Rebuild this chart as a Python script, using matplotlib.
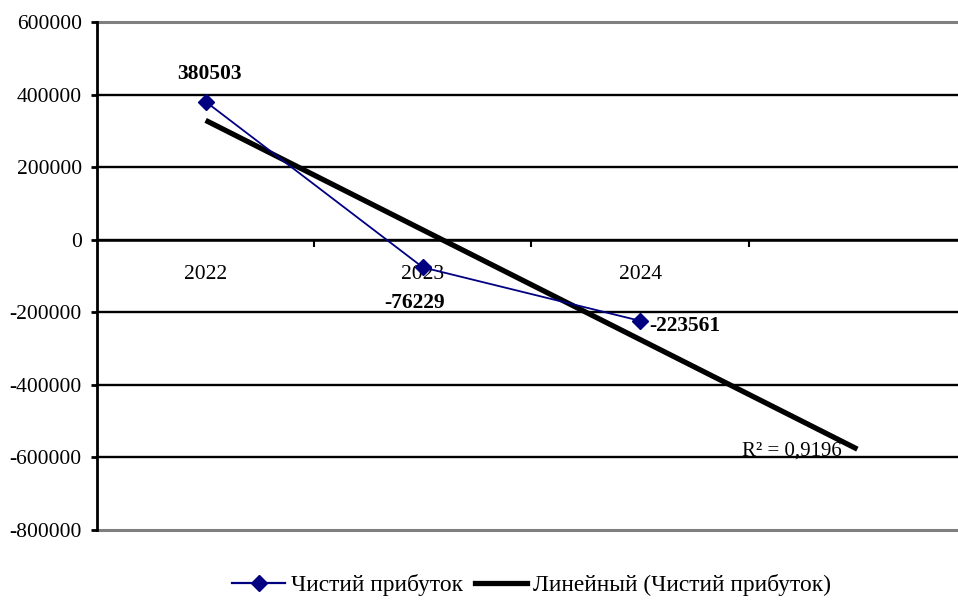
import numpy as np
import matplotlib.pyplot as plt
from matplotlib.lines import Line2D
from matplotlib.ticker import FixedLocator, NullFormatter, FixedFormatter

plt.rcParams['font.family'] = ['Liberation Serif', 'DejaVu Serif']

years = ['2022', '2023', '2024']
profit = [380503, -76229, -223561]
series_name = 'Чистий прибуток'
trend_name = 'Линейный (Чистий прибуток)'
y_ticks = [600000, 400000, 200000, 0, -200000, -400000, -600000, -800000]

x = np.arange(1, len(years) + 1)
# linear trend, extended one period forward
k, b = np.polyfit(x, profit, 1)
x_tr = np.array([1, len(years) + 1])
y_fit = k * x + b
r2 = 1 - np.sum((np.array(profit) - y_fit) ** 2) / np.sum((np.array(profit) - np.mean(profit)) ** 2)

fig = plt.figure(figsize=(9.58, 6.01), dpi=100)
ax = fig.add_axes([97 / 958, 71 / 601, 869 / 958, 508 / 601])
ax.set_xlim(0.5, 4.5)
ax.set_ylim(-800000, 600000)

# horizontal grid with a grey shadow
for v in y_ticks[1:-1]:
    ax.axhline(v, color='#808080', lw=1.3, zorder=1, clip_on=False)
    ax.axhline(v, color='black', lw=1.7, zorder=1.1, clip_on=False)
ax.axhline(600000, color='#7f7f7f', lw=2.2, zorder=1, clip_on=False)
ax.axhline(-800000, color='#7f7f7f', lw=2.2, zorder=1, clip_on=False)

ax.plot(x_tr, k * x_tr + b, color='black', lw=3.8, solid_capstyle='butt', zorder=3)
ax.plot(x, profit, color='#000080', lw=1.3, marker='D', ms=8, zorder=4)

lbl = dict(fontsize=15.5, fontweight='bold', textcoords='offset points', va='center')
ax.annotate(f'{profit[0]}', (x[0], profit[0]), xytext=(3, 20), ha='center', **lbl)
ax.annotate(f'{profit[1]}', (x[1], profit[1]), xytext=(-6, -26), ha='center', **lbl)
ax.annotate(f'{profit[2]}', (x[2], profit[2]), xytext=(6.5, -4), ha='left', **lbl)
ax.annotate('R² = ' + f'{r2:.4f}'.replace('.', ','), (x_tr[1], k * x_tr[1] + b),
            xytext=(-11.5, -4.5), textcoords='offset points', ha='right', va='baseline',
            fontsize=15)

for s in ['top', 'right']:
    ax.spines[s].set_visible(False)
ax.spines['left'].set_linewidth(2)
ax.spines['bottom'].set_position(('data', 0))
ax.spines['bottom'].set_linewidth(1.8)

ax.yaxis.set_major_locator(FixedLocator(y_ticks))
ax.set_yticklabels([str(v) for v in y_ticks])
ax.tick_params(axis='y', length=4, width=2, labelsize=15.5, pad=7)

ax.xaxis.set_major_locator(FixedLocator([1.5, 2.5, 3.5]))
ax.xaxis.set_major_formatter(NullFormatter())
ax.xaxis.set_minor_locator(FixedLocator(list(x)))
ax.xaxis.set_minor_formatter(FixedFormatter(years))
ax.tick_params(axis='x', which='major', direction='out', length=5, width=1.5)
ax.tick_params(axis='x', which='minor', length=0, labelsize=15.5, pad=18)

handles = [Line2D([], [], color='#000080', lw=1.6, marker='D', ms=8),
           Line2D([], [], color='black', lw=3.8)]
fig.legend(handles, [series_name, trend_name], loc='center', bbox_to_anchor=(0.555, 0.026),
           ncol=2, frameon=False, fontsize=16.8, handlelength=2.27, columnspacing=0.5,
           handletextpad=0.25, borderpad=0, borderaxespad=0)

fig.savefig('out.png', dpi=100)
